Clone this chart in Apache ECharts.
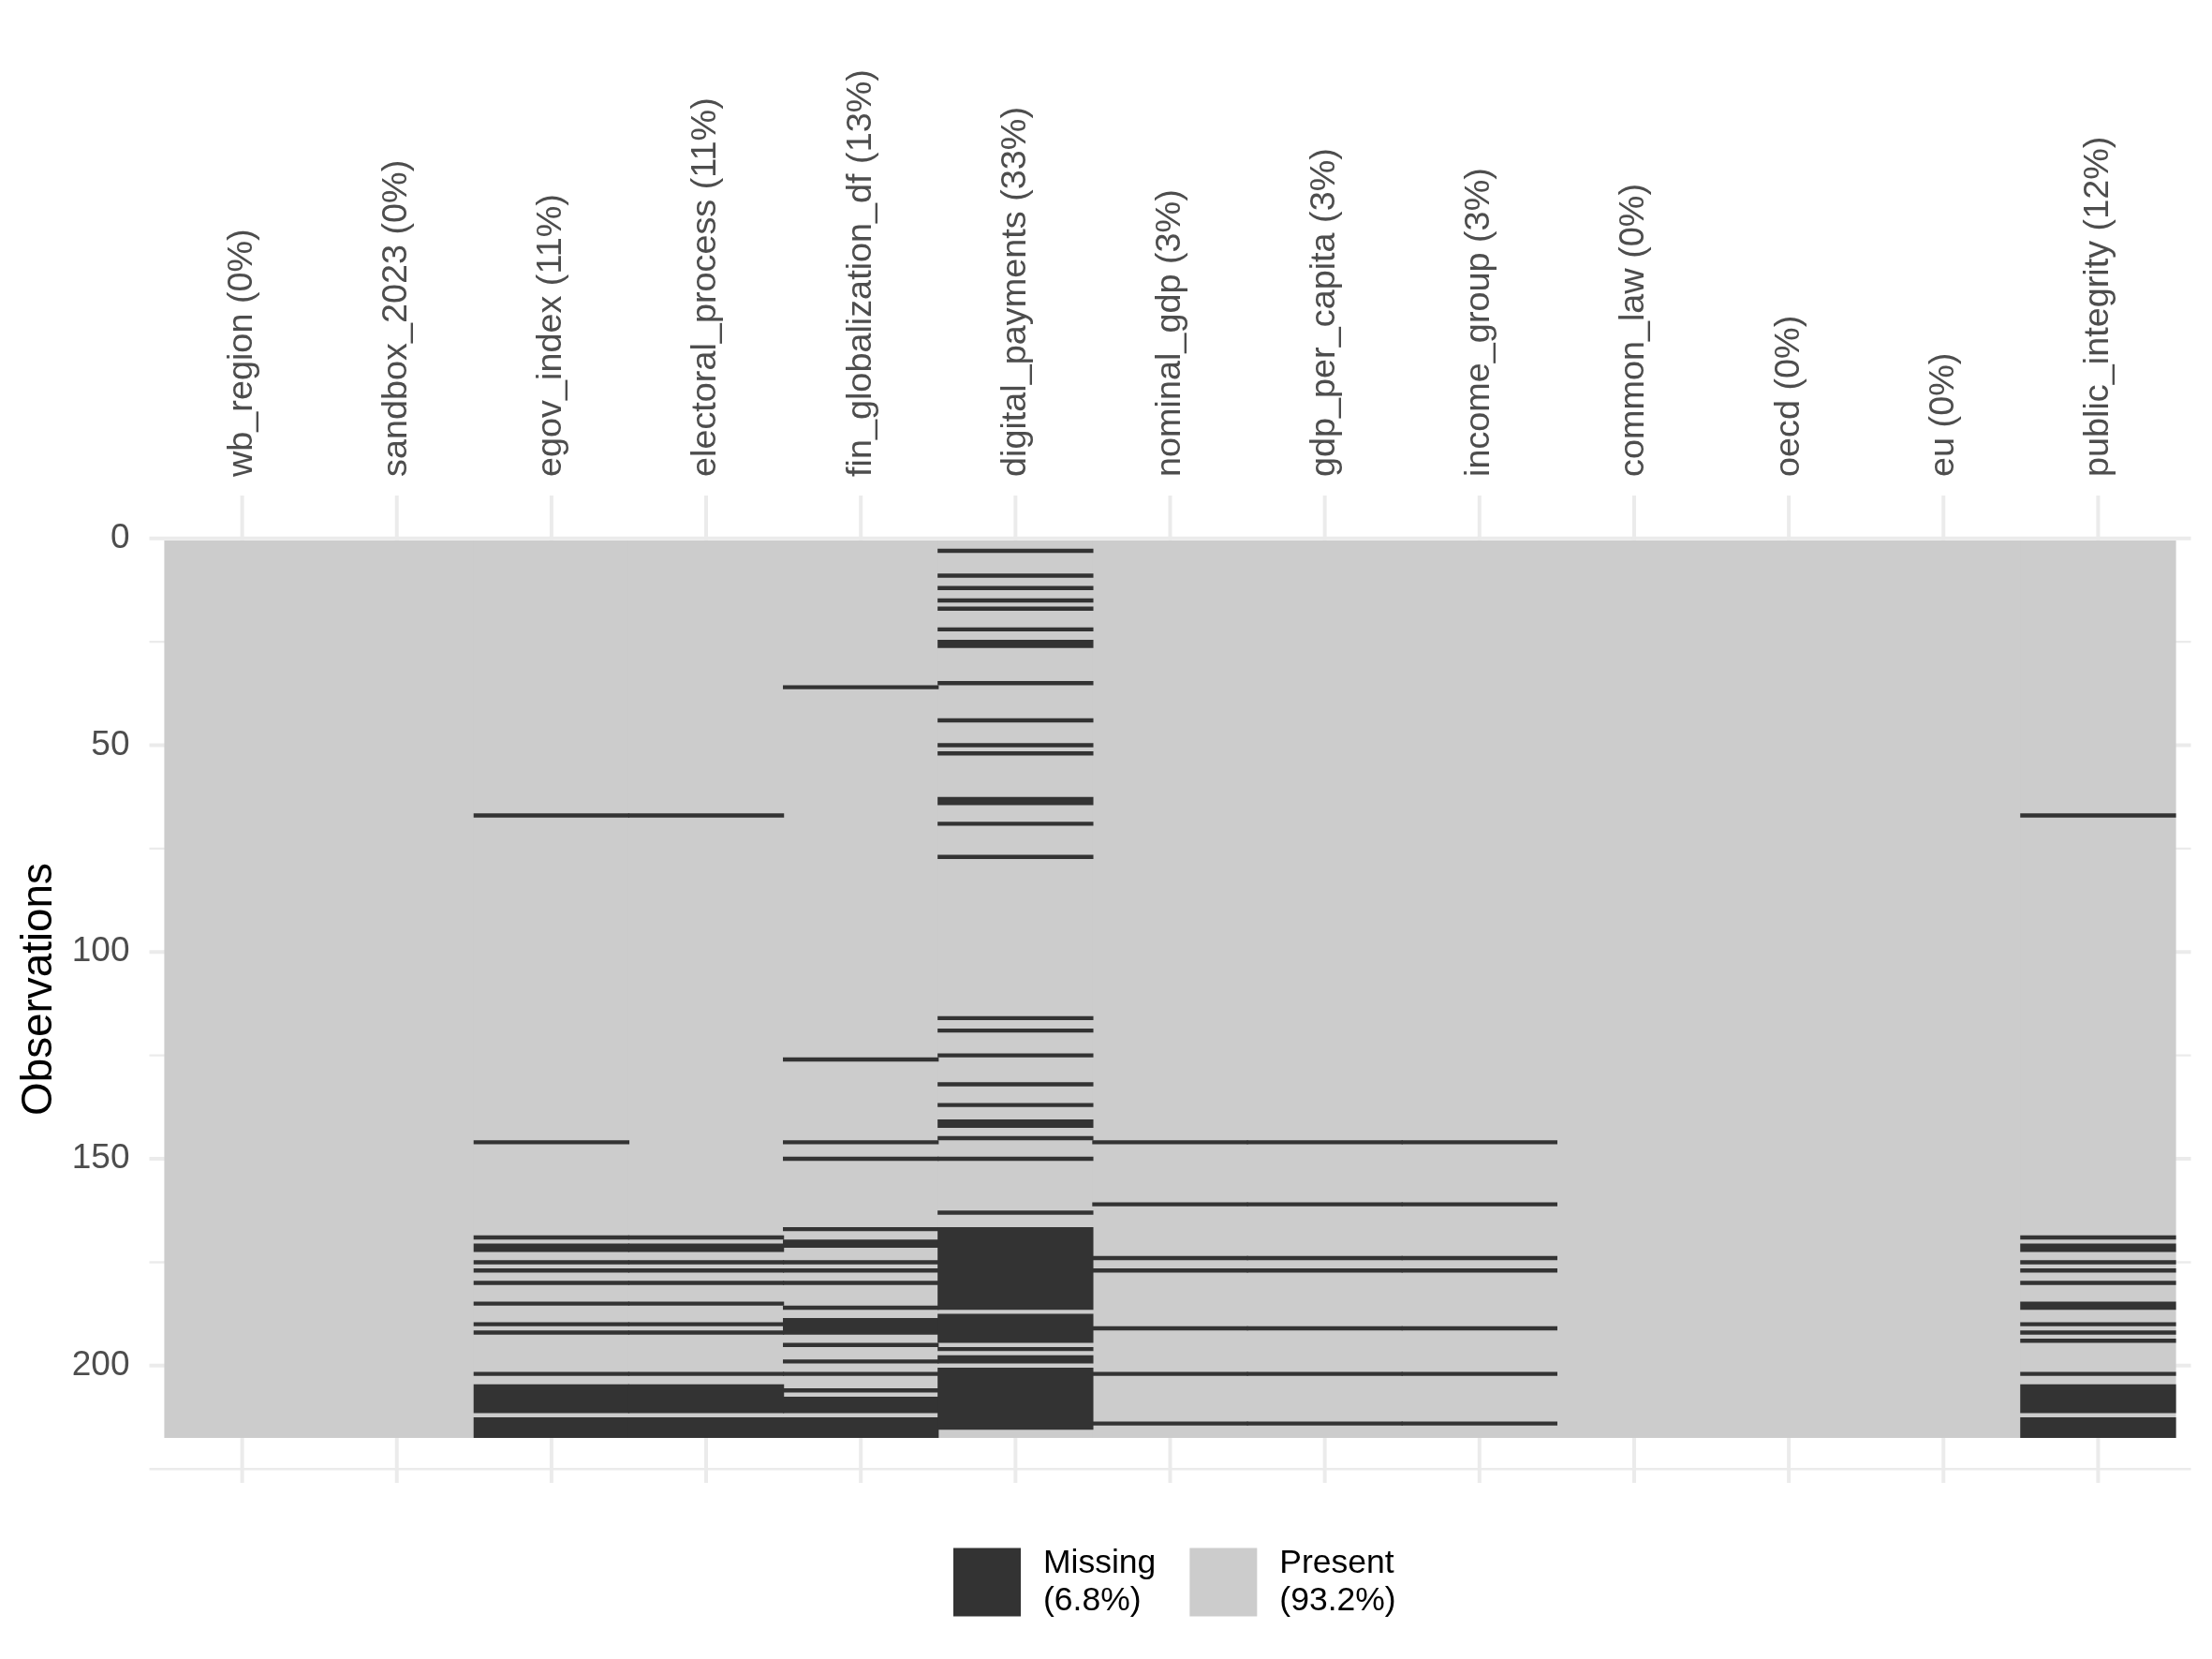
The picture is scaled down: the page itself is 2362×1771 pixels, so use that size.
<!DOCTYPE html>
<html><head><meta charset="utf-8">
<script src="https://cdn.jsdelivr.net/npm/echarts@6/dist/echarts.min.js"></script>
<style>html,body{margin:0;padding:0;background:#fff}#c{width:2362px;height:1771px}</style>
</head><body><div id="c"></div>
<script>
// ---------------- data ----------------
const columnNames = ['wb_region','sandbox_2023','egov_index','electoral_process','fin_globalization_df','digital_payments','nominal_gdp','gdp_per_capita','income_group','common_law','oecd','eu','public_integrity'];
const columnLabels = ['wb_region (0%)','sandbox_2023 (0%)','egov_index (11%)','electoral_process (11%)','fin_globalization_df (13%)','digital_payments (33%)','nominal_gdp (3%)','gdp_per_capita (3%)','income_group (3%)','common_law (0%)','oecd (0%)','eu (0%)','public_integrity (12%)'];
const nObservations = 217;
const yTickValues = [0, 50, 100, 150, 200];
const yMinorValues = [25, 75, 125, 175, 225];
const legendNames = ['Missing', 'Present'];
const legendLabels = ['Missing\n(6.8%)', 'Present\n(93.2%)'];

// missing row numbers (1-based) per column
const miss_wb_region = [];
const miss_sandbox_2023 = [];
const miss_egov_index = [67,146,169,171,172,175,177,180,185,190,192,202,205,206,207,208,209,210,211,213,214,215,216,217];
const miss_electoral_process = [67,169,171,172,175,177,180,185,190,192,202,205,206,207,208,209,210,211,213,214,215,216,217];
const miss_fin_globalization_df = [36,126,146,150,167,170,171,175,177,180,186,189,190,191,192,195,199,202,206,208,209,210,211,213,214,215,216,217];
const miss_digital_payments = [3,9,12,15,17,22,25,26,35,44,50,52,63,64,69,77,116,119,125,132,137,141,142,145,150,163,
  167,168,169,170,171,172,173,174,175,176,177,178,179,180,181,182,183,184,185,186,
  188,189,190,191,192,193,194,196,198,199,
  201,202,203,204,205,206,207,208,209,210,211,212,213,214,215];
const miss_nominal_gdp = [146,161,174,177,191,202,214];
const miss_gdp_per_capita = [146,161,174,177,191,202,214];
const miss_income_group = [146,161,174,177,191,202,214];
const miss_common_law = [];
const miss_oecd = [];
const miss_eu = [];
const miss_public_integrity = [67,169,171,172,175,177,180,185,186,190,192,194,202,205,206,207,208,209,210,211,213,214,215,216,217];

// ---------------- build ----------------
const missingByColumn = [miss_wb_region, miss_sandbox_2023, miss_egov_index, miss_electoral_process, miss_fin_globalization_df,
  miss_digital_payments, miss_nominal_gdp, miss_gdp_per_capita, miss_income_group, miss_common_law, miss_oecd, miss_eu, miss_public_integrity];

function runs(rows) {
  const out = []; let s = null, p = null;
  rows.forEach(r => {
    if (s === null) { s = r; p = r; }
    else if (r === p + 1) { p = r; }
    else { out.push([s, p]); s = r; p = r; }
  });
  if (s !== null) out.push([s, p]);
  return out;
}

const nCol = columnNames.length;
const xMin = -0.6, xMax = nCol - 1 + 0.6;
const yExpand = nObservations * 0.05;
const yMin = 0.5 - yExpand, yMax = nObservations + 0.5 + yExpand;

const presentData = columnNames.map((c, i) => [i, 1, nObservations]);
const missingData = [];
missingByColumn.forEach((rows, i) => runs(rows).forEach(([a, b]) => missingData.push([i, a, b])));

const gridHData = yTickValues.map(v => [v, 4]).concat(yMinorValues.map(v => [v, 2.4]));
const gridVData = columnNames.map((c, i) => [i, 4]);

const FONT = "'Liberation Sans', Arial, Helvetica, sans-serif";

function tileRender(color) {
  return function (params, api) {
    const col = api.value(0), r0 = api.value(1), r1 = api.value(2);
    const p0 = api.coord([col - 0.5, r0 - 0.5]);
    const p1 = api.coord([col + 0.5, r1 + 0.5]);
    const x = Math.min(p0[0], p1[0]), w = Math.abs(p1[0] - p0[0]);
    // overlap horizontally by half a pixel on each side to avoid seams between adjacent columns
    return {
      type: 'rect',
      shape: { x: x - 0.6, y: Math.min(p0[1], p1[1]), width: w + 1.2, height: Math.abs(p1[1] - p0[1]) },
      style: { fill: color }
    };
  };
}

const chart = echarts.init(document.getElementById('c'), null, { renderer: 'canvas' });
chart.setOption({
  animation: false,
  backgroundColor: '#ffffff',
  textStyle: { fontFamily: FONT },
  grid: { left: 159.5, right: 22.5, top: 529, bottom: 188, containLabel: false },
  xAxis: {
    type: 'value', position: 'top', min: xMin, max: xMax, splitNumber: 13,
    axisLine: { show: false }, axisTick: { show: false }, splitLine: { show: false },
    axisLabel: {
      rotate: 90, margin: 20, fontSize: 37.8, color: '#4D4D4D', fontFamily: FONT,
      customValues: columnNames.map((c, i) => i),
      formatter: v => (Math.abs(v - Math.round(v)) < 1e-6 && v >= 0 && v < nCol) ? columnLabels[Math.round(v)] : ''
    }
  },
  yAxis: {
    type: 'value', inverse: true, min: yMin, max: yMax, splitNumber: 5,
    name: 'Observations', nameLocation: 'middle', nameRotate: 90, nameGap: 86,
    nameTextStyle: { fontSize: 45.8, color: '#000000', fontFamily: FONT },
    axisLine: { show: false }, axisTick: { show: false }, splitLine: { show: false },
    axisLabel: {
      margin: 21, fontSize: 37, color: '#4D4D4D', fontFamily: FONT,
      customValues: yTickValues,
      formatter: v => yTickValues.indexOf(Math.round(v)) >= 0 && Math.abs(v - Math.round(v)) < 1e-6 ? String(Math.round(v)) : ''
    }
  },
  legend: {
    data: legendNames, left: 1013, top: 1644, orient: 'horizontal',
    icon: 'rect', itemWidth: 72, itemHeight: 73, itemGap: 36,
    formatter: name => legendLabels[legendNames.indexOf(name)],
    textStyle: { fontSize: 35.5, lineHeight: 40, color: '#000000', fontFamily: FONT, padding: [0, 0, 0, 19] }
  },
  series: [
    {
      type: 'custom', name: 'gridH', silent: true, z: 0,
      data: gridHData,
      renderItem: (params, api) => {
        const y = api.value(0), w = api.value(1);
        const a = api.coord([xMin, y]), b = api.coord([xMax, y]);
        return { type: 'line', shape: { x1: a[0], y1: a[1], x2: b[0], y2: b[1] }, style: { stroke: '#EBEBEB', lineWidth: w } };
      }
    },
    {
      type: 'custom', name: 'gridV', silent: true, z: 0,
      data: gridVData,
      renderItem: (params, api) => {
        const x = api.value(0), w = api.value(1);
        const a = api.coord([x, yMin]), b = api.coord([x, yMax]);
        return { type: 'line', shape: { x1: a[0], y1: a[1], x2: b[0], y2: b[1] }, style: { stroke: '#EBEBEB', lineWidth: w } };
      }
    },
    {
      type: 'custom', name: 'Present', z: 2, itemStyle: { color: '#CCCCCC' },
      data: presentData, renderItem: tileRender('#CCCCCC')
    },
    {
      type: 'custom', name: 'Missing', z: 3, itemStyle: { color: '#333333' },
      data: missingData, renderItem: tileRender('#333333')
    }
  ]
});
</script></body></html>
